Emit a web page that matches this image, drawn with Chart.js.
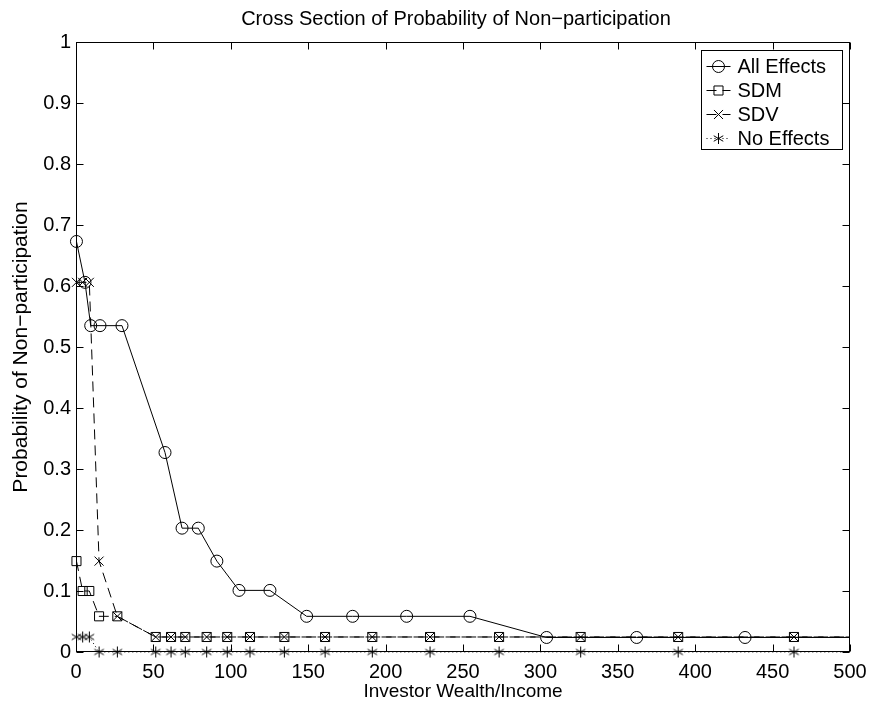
<!DOCTYPE html>
<html>
<head>
<meta charset="utf-8">
<script src="https://cdn.jsdelivr.net/npm/chart.js@4.4.1/dist/chart.umd.min.js"></script>
<style>
    html, body { margin: 0; padding: 0; background: #fff; }
    #wrap { width: 870px; height: 704px; }
</style>
</head>
<body>
<div id="wrap"><canvas id="probChart"></canvas></div>
<script>
// Tick values
const xTicks = [0, 50, 100, 150, 200, 250, 300, 350, 400, 450, 500];
const yTicks = [0, 0.1, 0.2, 0.3, 0.4, 0.5, 0.6, 0.7, 0.8, 0.9, 1];

// All Effects (circles, solid)
const allX = [0.3, 5.8, 9.5, 15.5, 29.7, 57.5, 68.5, 79, 91, 105.3, 125.3, 149, 178.7, 213.6, 254.5, 304, 362.2, 432.2, 512];
const allY = [0.673, 0.606, 0.535, 0.535, 0.535, 0.327, 0.203, 0.203, 0.149, 0.101, 0.101, 0.0585, 0.0585, 0.0585, 0.0585, 0.0238, 0.0238, 0.0238, 0.0238];

// SDM / SDV / No Effects share the same wealth grid
const gridX = [0.3, 4.3, 8.6, 14.9, 26.7, 51.5, 61.4, 70.6, 84.4, 97.7, 112.4, 134.6, 160.9, 191.4, 228.7, 273.3, 326, 389, 463.8, 550];
const sdmY = [0.149, 0.100, 0.100, 0.0585, 0.0585, 0.0246, 0.0246, 0.0246, 0.0246, 0.0246, 0.0246, 0.0246, 0.0246, 0.0246, 0.0246, 0.0246, 0.0246, 0.0246, 0.0246, 0.0246];
const sdvY = [0.606, 0.606, 0.606, 0.149, 0.0585, 0.0246, 0.0246, 0.0246, 0.0246, 0.0246, 0.0246, 0.0246, 0.0246, 0.0246, 0.0246, 0.0246, 0.0246, 0.0246, 0.0246, 0.0246];
const noneY = [0.0246, 0.0246, 0.0246, 0, 0, 0, 0, 0, 0, 0, 0, 0, 0, 0, 0, 0, 0, 0, 0, 0];

const TITLE = 'Cross Section of Probability of Non\u2212participation';
const FONT = '"Liberation Sans", Arial, Helvetica, sans-serif';

const toPoints = (xs, ys) => xs.map((x, i) => ({ x: x, y: ys[i] }));

// matlab style '*' marker
function makeAsterisk() {
    const c = document.createElement('canvas');
    c.width = 13;
    c.height = 13;
    const g = c.getContext('2d');
    g.strokeStyle = '#000';
    g.lineWidth = 1;
    g.beginPath();
    for (let k = 0; k < 3; k++) {
        const a = Math.PI / 2 + k * Math.PI / 3;
        const dx = Math.cos(a) * 5.5, dy = Math.sin(a) * 5.5;
        g.moveTo(6.5 - dx, 6.5 - dy);
        g.lineTo(6.5 + dx, 6.5 + dy);
    }
    g.stroke();
    return c;
}
const asterisk = makeAsterisk();

const clipBox = { left: 10, top: 10, right: 0, bottom: 10 };

// box + inward ticks on all four sides, title over the axes
const framePlugin = {
    id: 'frame',
    beforeDatasetsDraw(chart) {
        const { ctx, chartArea: a, scales: { x, y } } = chart;
        const L = Math.round(a.left) + 0.5, R = Math.round(a.right) - 0.5;
        const T = Math.round(a.top) + 0.5, B = Math.round(a.bottom) - 0.5;
        ctx.save();
        ctx.strokeStyle = '#000';
        ctx.lineWidth = 1;
        ctx.beginPath();
        x.ticks.forEach(t => {
            const px = Math.round(x.getPixelForValue(t.value)) + 0.5;
            ctx.moveTo(px, B); ctx.lineTo(px, B - 7);
            ctx.moveTo(px, T); ctx.lineTo(px, T + 7);
        });
        y.ticks.forEach(t => {
            const py = Math.round(y.getPixelForValue(t.value)) + 0.5;
            ctx.moveTo(L, py); ctx.lineTo(L + 7, py);
            ctx.moveTo(R, py); ctx.lineTo(R - 7, py);
        });
        ctx.stroke();
        ctx.strokeRect(L, T, R - L, B - T);

        ctx.fillStyle = '#000';
        ctx.font = '20px ' + FONT;
        ctx.textAlign = 'center';
        ctx.textBaseline = 'alphabetic';
        ctx.fillText(TITLE, (a.left + a.right) / 2 - 7, 25);
        ctx.restore();
    }
};

// matlab style legend box
const legendPlugin = {
    id: 'boxLegend',
    afterDraw(chart) {
        const { ctx, chartArea: a } = chart;
        const w = 141, h = 99;
        const left = Math.round(a.right) - 8 - w + 0.5;
        const top = Math.round(a.top) + 8.5;
        ctx.save();
        ctx.fillStyle = '#fff';
        ctx.fillRect(left, top, w, h);
        ctx.strokeStyle = '#000';
        ctx.lineWidth = 1;
        ctx.strokeRect(left, top, w, h);
        ctx.font = '20px ' + FONT;
        ctx.textBaseline = 'middle';
        chart.data.datasets.forEach((ds, i) => {
            const yy = Math.round(top + 15 + i * 24) + 0.5;
            ctx.save();
            ctx.strokeStyle = '#000';
            ctx.setLineDash(ds.borderDash || []);
            ctx.beginPath();
            ctx.moveTo(left + 5, yy);
            ctx.lineTo(left + 29, yy);
            ctx.stroke();
            ctx.setLineDash([]);
            ctx.fillStyle = 'rgba(0,0,0,0)';
            Chart.helpers.drawPoint(ctx, {
                pointStyle: ds.pointStyle,
                radius: ds.pointRadius,
                rotation: 0,
                borderWidth: 1
            }, left + 17, yy);
            ctx.restore();
            ctx.fillStyle = '#000';
            ctx.fillText(ds.label, left + 36, yy + 1);
        });
        ctx.restore();
    }
};

const ctx = document.getElementById('probChart');
new Chart(ctx, {
    type: 'scatter',
    data: {
        datasets: [{
            label: 'All Effects',
            data: toPoints(allX, allY),
            showLine: true,
            borderColor: '#000',
            borderWidth: 1,
            pointStyle: 'circle',
            pointRadius: 6,
            pointBorderWidth: 1,
            pointBorderColor: '#000',
            pointBackgroundColor: 'rgba(0,0,0,0)',
            clip: clipBox
        }, {
            label: 'SDM',
            data: toPoints(gridX, sdmY),
            showLine: true,
            borderColor: '#000',
            borderWidth: 1,
            borderDash: [10, 6],
            pointStyle: 'rect',
            pointRadius: 6.4,
            pointBorderWidth: 1,
            pointBorderColor: '#000',
            pointBackgroundColor: 'rgba(0,0,0,0)',
            clip: clipBox
        }, {
            label: 'SDV',
            data: toPoints(gridX, sdvY),
            showLine: true,
            borderColor: '#000',
            borderWidth: 1,
            borderDash: [10, 6],
            pointStyle: 'crossRot',
            pointRadius: 6.4,
            pointBorderWidth: 1,
            pointBorderColor: '#000',
            pointBackgroundColor: 'rgba(0,0,0,0)',
            clip: clipBox
        }, {
            label: 'No Effects',
            data: toPoints(gridX, noneY),
            showLine: true,
            borderColor: '#000',
            borderWidth: 1,
            borderDash: [1, 3],
            pointStyle: asterisk,
            pointRadius: 5,
            pointBorderWidth: 1,
            pointBorderColor: '#000',
            pointBackgroundColor: 'rgba(0,0,0,0)',
            clip: clipBox
        }]
    },
    options: {
        responsive: true,
        maintainAspectRatio: false,
        animation: false,
        devicePixelRatio: 1,
        layout: { padding: { left: 0, right: 20, top: 42, bottom: 0 } },
        plugins: {
            legend: { display: false },
            tooltip: { enabled: false },
            title: { display: false }
        },
        scales: {
            x: {
                type: 'linear',
                min: 0,
                max: 500,
                afterBuildTicks: s => { s.ticks = xTicks.map(v => ({ value: v })); },
                afterFit: s => { s.height = 52; s.paddingLeft = 0; s.paddingRight = 0; },
                grid: { display: false, drawTicks: false },
                border: { display: false },
                ticks: {
                    color: '#000',
                    padding: 8,
                    maxRotation: 0,
                    font: { family: FONT, size: 20 }
                },
                title: {
                    display: true,
                    text: 'Investor Wealth/Income',
                    color: '#000',
                    font: { family: FONT, size: 19 },
                    padding: { top: 0, bottom: 1 }
                }
            },
            y: {
                type: 'linear',
                min: 0,
                max: 1,
                afterBuildTicks: s => { s.ticks = yTicks.map(v => ({ value: v })); },
                afterFit: s => { s.width = 76; s.paddingTop = 0; s.paddingBottom = 0; },
                grid: { display: false, drawTicks: false },
                border: { display: false },
                ticks: {
                    color: '#000',
                    padding: 5,
                    font: { family: FONT, size: 20 },
                    callback: v => String(parseFloat(Number(v).toFixed(1)))
                },
                title: {
                    display: true,
                    text: 'Probability of Non\u2212participation',
                    color: '#000',
                    font: { family: FONT, size: 21 },
                    padding: { top: 9, bottom: 0 }
                }
            }
        }
    },
    plugins: [framePlugin, legendPlugin]
});
</script>
</body>
</html>
